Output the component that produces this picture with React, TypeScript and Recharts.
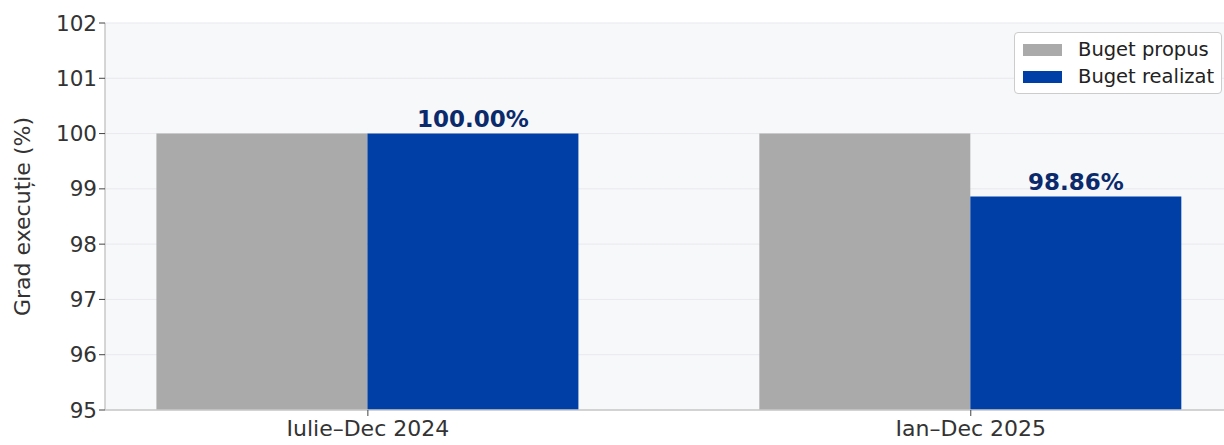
import { BarChart, Bar, XAxis, YAxis, CartesianGrid, LabelList } from "recharts";

const categories = ["Iulie–Dec 2024", "Ian–Dec 2025"];
const bugetPropus = [100, 100];
const bugetRealizat = [100, 98.86];
const yTicks = [95, 96, 97, 98, 99, 100, 101, 102];
const legendItems = ["Buget propus", "Buget realizat"];

const GREY = "#aaaaaa";
const BLUE = "#003fa5";
const FONT = "'DejaVu Sans', sans-serif";

const data = categories.map((name, i) => ({
  x: i,
  name,
  propus: bugetPropus[i],
  realizat: bugetRealizat[i],
}));

const LegendBox = () => (
  <div
    style={{
      position: "absolute",
      left: 1014,
      top: 32,
      width: 208,
      height: 62,
      boxSizing: "border-box",
      background: "#fff",
      border: "1px solid #cccccc",
      borderRadius: 4,
      padding: "3px 0 0 8px",
      fontFamily: FONT,
      fontSize: 19.5,
      color: "#222",
      lineHeight: "27px",
    }}
  >
    {legendItems.map((label, i) => (
      <div key={label} style={{ display: "flex", alignItems: "center", whiteSpace: "nowrap" }}>
        <span
          style={{
            display: "inline-block",
            width: 39,
            height: 12,
            background: i === 0 ? GREY : BLUE,
            marginRight: 16,
          }}
        />
        <span>{label}</span>
      </div>
    ))}
  </div>
);

const App = () => {
  return (
    <div style={{ position: "absolute", left: 0, top: 0, width: 1224, height: 445, background: "#fff" }}>
      <BarChart
        width={1224}
        height={445}
        data={data}
        margin={{ top: 23, right: 0, left: 0, bottom: 0 }}
        barGap={0}
        barSize={211}
      >
        <CartesianGrid vertical={false} stroke="#e9e9ee" fill="#f7f8fa" />
        <XAxis
          dataKey="x"
          type="number"
          domain={[-0.436, 1.42]}
          ticks={[0, 1]}
          allowDataOverflow
          tickFormatter={(v: number) => categories[v] ?? ""}
          height={35}
          axisLine={{ stroke: "#c8c8c8", strokeWidth: 1.5 }}
          tickLine={{ stroke: "#444" }}
          tickSize={6}
          tick={{ fontSize: 22, fill: "#333", fontFamily: FONT, dy: 2 }}
        />
        <YAxis
          domain={[95, 102]}
          ticks={yTicks}
          allowDataOverflow
          width={105}
          axisLine={{ stroke: "#c8c8c8", strokeWidth: 1.5 }}
          tickLine={{ stroke: "#444" }}
          tickSize={6}
          tick={{ fontSize: 21.5, fill: "#333", fontFamily: FONT }}
          label={{
            value: "Grad execuție (%)",
            angle: -90,
            position: "insideLeft",
            offset: 22,
            style: { fontSize: 22, fill: "#333", fontFamily: FONT, textAnchor: "middle" },
          }}
        />
        <Bar dataKey="propus" name="Buget propus" fill={GREY} isAnimationActive={false} />
        <Bar dataKey="realizat" name="Buget realizat" fill={BLUE} isAnimationActive={false}>
          <LabelList
            dataKey="realizat"
            position="top"
            offset={7}
            formatter={(v: number) => `${v.toFixed(2)}%`}
            style={{ fontSize: 23, fontWeight: "bold", fill: "#0b2a6b", fontFamily: FONT }}
          />
        </Bar>
      </BarChart>
      <LegendBox />
    </div>
  );
};

export default App;
